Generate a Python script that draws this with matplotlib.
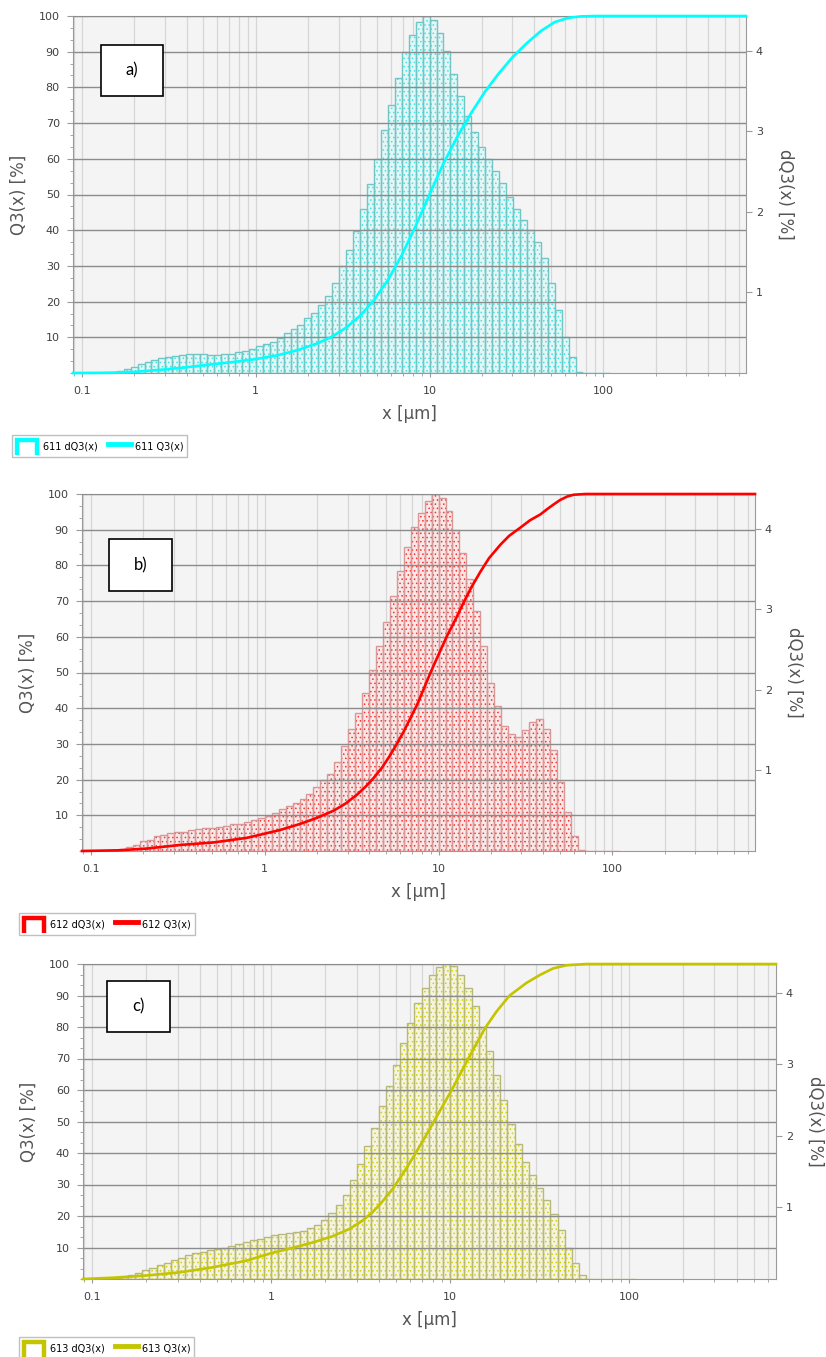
import numpy as np
import matplotlib.pyplot as plt
from matplotlib.ticker import LogLocator, MultipleLocator, NullFormatter
from matplotlib.patches import Rectangle, Patch
from matplotlib.lines import Line2D
from matplotlib.legend_handler import HandlerBase

W, H = 826, 1357

# size classes of the analyser: 25 per decade, class k = 10**(k/25) .. 10**((k+1)/25) um
classes_per_decade = 25
first_class = -25
x_min, x_max = 0.0888, 662

# sample 611 - dQ3 per class [%], classes k = -25 ... 50
a_dq3 = [0.005, 0.005, 0.005, 0.01, 0.015,
         0.03, 0.05, 0.08, 0.11, 0.14, 0.16, 0.19, 0.20, 0.21, 0.22,
         0.23, 0.23, 0.23, 0.22, 0.22, 0.23, 0.23, 0.26, 0.27, 0.30,
         0.33, 0.36, 0.39, 0.43, 0.50, 0.55, 0.60, 0.68, 0.75, 0.84,
         0.96, 1.12, 1.33, 1.53, 1.76, 2.04, 2.35, 2.65, 3.01, 3.33,
         3.66, 3.98, 4.20, 4.35, 4.43,
         4.38, 4.22, 3.99, 3.71, 3.44, 3.19, 2.99, 2.81, 2.65, 2.51,
         2.36, 2.19, 2.03, 1.90, 1.77, 1.63, 1.43, 1.12, 0.78, 0.45,
         0.20, 0.01, 0, 0, 0, 0]
# Q3 curve [%] read at these sizes [um]
a_q3_x = [0.0888, 0.145, 0.2, 0.3, 0.4, 0.55, 0.75, 1.0, 1.32, 1.74, 2.29, 2.75,
          3.31, 3.98, 4.79, 5.75, 6.92, 8.32, 10.0, 12.0, 14.5, 17.4, 20.9, 25.1,
          30.2, 36.3, 43.7, 52.5, 63.1, 75, 90, 662]
a_q3 = [0, 0.05, 0.3, 1.0, 1.6, 2.4, 3.1, 3.9, 4.9, 6.4, 8.4, 10.2,
        12.7, 16.0, 20.4, 26.0, 33.0, 41.2, 50.0, 58.6, 66.3, 72.9, 78.9, 84.0,
        88.6, 92.4, 95.8, 98.3, 99.5, 99.9, 100, 100]

# sample 612
b_dq3 = [0, 0, 0.005, 0.01,
         0.02, 0.05, 0.08, 0.12, 0.14, 0.18, 0.20, 0.22, 0.23, 0.24,
         0.26, 0.27, 0.28, 0.29, 0.30, 0.31, 0.33, 0.34, 0.36, 0.39, 0.41,
         0.43, 0.47, 0.52, 0.56, 0.59, 0.65, 0.71, 0.80, 0.88, 0.96,
         1.10, 1.30, 1.51, 1.71, 1.96, 2.25, 2.54, 2.84, 3.17, 3.47,
         3.77, 4.02, 4.20, 4.34, 4.43,
         4.38, 4.22, 3.98, 3.70, 3.37, 2.98, 2.54, 2.09, 1.80, 1.55,
         1.45, 1.42, 1.50, 1.60, 1.64, 1.52, 1.25, 0.86, 0.48, 0.18,
         0.01, 0, 0, 0, 0, 0]
b_q3_x = [0.0888, 0.145, 0.211, 0.327, 0.509, 0.792, 1.23, 1.6, 2.0, 2.49, 2.9, 3.4,
          3.8, 4.24, 4.75, 5.28, 5.75, 6.31, 6.9, 7.53, 8.2, 8.98, 9.5, 10.5,
          11.2, 12.5, 14.0, 15.5, 17.4, 19.5, 22.7, 25.5, 29.6, 33.5, 38.6, 42.0,
          46.0, 50.0, 55.0, 60.0, 70.0, 662]
b_q3 = [0, 0.2, 0.7, 1.7, 2.4, 3.7, 5.9, 7.6, 9.3, 11.3, 13.2, 15.8,
        18.0, 20.5, 23.5, 26.9, 30.0, 33.5, 37.3, 41.0, 45.3, 49.9, 52.6, 57.3,
        60.3, 64.8, 69.8, 74.0, 78.2, 82.0, 85.8, 88.3, 90.6, 92.6, 94.3, 95.7,
        97.1, 98.3, 99.3, 99.8, 100, 100]

# sample 613
c_dq3 = [0, 0.005, 0.01, 0.02,
         0.03, 0.05, 0.08, 0.12, 0.15, 0.19, 0.22, 0.27, 0.30, 0.33,
         0.36, 0.38, 0.41, 0.42, 0.43, 0.46, 0.49, 0.51, 0.54, 0.56, 0.58, 0.62,
         0.63, 0.64, 0.65, 0.67, 0.71, 0.76, 0.83, 0.92, 1.03, 1.18,
         1.38, 1.61, 1.86, 2.11, 2.41, 2.69, 2.99, 3.29, 3.57, 3.85,
         4.07, 4.25, 4.36, 4.40,
         4.37, 4.25, 4.07, 3.81, 3.52, 3.19, 2.85, 2.50, 2.16, 1.88,
         1.64, 1.45, 1.27, 1.10, 0.91, 0.68, 0.43, 0.23, 0.06,
         0, 0, 0, 0, 0, 0, 0]
c_q3_x = [0.0888, 0.13, 0.2, 0.307, 0.471, 0.724, 1.0, 1.32, 1.71, 2.21, 2.74, 3.2,
          3.7, 4.21, 4.8, 5.5, 6.3, 7.2, 8.2, 9.2, 10.3, 11.8, 13.5, 15.6,
          18.2, 21.5, 26.7, 31.7, 37.6, 44.7, 57.8, 662]
c_q3 = [0, 0.4, 1.1, 2.1, 3.7, 5.8, 8.2, 9.9, 11.6, 13.6, 15.9, 18.3,
        21.3, 24.8, 28.8, 33.8, 39.2, 44.8, 50.5, 55.5, 60.4, 66.8, 73.0, 79.5,
        85.0, 90.0, 94.0, 96.5, 98.6, 99.6, 100, 100]


class OpenBarHandler(HandlerBase):
    # legend symbol of the histogram: a thick open box
    def create_artists(self, legend, orig_handle, xdescent, ydescent, width, height, fontsize, trans):
        x0, x1 = -xdescent + 1.5, -xdescent + width - 1.5
        y0, y1 = -ydescent - 1, -ydescent + height - 1.5
        ln = Line2D([x0, x0, x1, x1], [y0, y1, y1, y0], color=orig_handle.get_edgecolor(),
                    lw=3.2, solid_joinstyle='miter', solid_capstyle='butt', transform=trans)
        return [ln]


panels = [
    dict(name='611', tag='a)', line='#00ffff', face='#e4f6f6', dots='#3ee6e6', edge='#74c4c4',
         dq3=a_dq3, qx=a_q3_x, q=a_q3, box=(73, 16, 746, 373), top=4.43,
         tagbox=(101, 45, 163, 96), leg=(12, 435)),
    dict(name='612', tag='b)', line='#ff0000', face='#f8e8e8', dots='#ff3030', edge='#d89898',
         dq3=b_dq3, qx=b_q3_x, q=b_q3, box=(82, 494, 755, 851), top=4.43,
         tagbox=(109, 539, 172, 591), leg=(19, 913)),
    dict(name='613', tag='c)', line='#c4c400', face='#f4f4e0', dots='#d4d400', edge='#b8b87c',
         dq3=c_dq3, qx=c_q3_x, q=c_q3, box=(83, 964, 776, 1279), top=4.40,
         tagbox=(107, 981, 170, 1032), leg=(19, 1337)),
]

plt.rcParams['hatch.linewidth'] = 0.6
fig = plt.figure(figsize=(W / 100, H / 100), dpi=100)

for p in panels:
    l, t, r, b = p['box']
    ax = fig.add_axes([l / W, 1 - b / H, (r - l) / W, (b - t) / H])
    ax2 = ax.twinx()   # Q3 axis, drawn over the histogram

    ax.set_xscale('log')
    ax.set_xlim(x_min, x_max)
    ax.set_ylim(0, p['top'])
    ax.set_facecolor('#f4f4f4')

    k = np.arange(first_class, first_class + len(p['dq3']) + 1)
    edges = 10.0 ** (k / classes_per_decade)
    ax.bar(edges[:-1], p['dq3'], width=np.diff(edges), align='edge', color=p['face'],
           edgecolor=p['dots'], hatch='....', lw=0, zorder=2)
    ax.bar(edges[:-1], p['dq3'], width=np.diff(edges), align='edge', fill=False,
           edgecolor=p['edge'], lw=1.0, zorder=3)

    ax.set_axisbelow(True)
    ax.xaxis.set_minor_locator(LogLocator(base=10, subs=np.arange(2, 10)))
    ax.xaxis.set_minor_formatter(NullFormatter())
    ax.set_xticks([0.1, 1, 10, 100], labels=['0.1', '1', '10', '100'])
    ax.grid(axis='x', which='both', color='#d6d6d6', lw=0.9)
    ax.tick_params(axis='x', which='major', length=3, color='#9a9a9a', labelsize=8,
                   labelcolor='#404040', pad=6)
    ax.tick_params(axis='x', which='minor', length=2, color='#9a9a9a')
    ax.set_xlabel('x [µm]', fontsize=12, color='#555555', labelpad=7)

    # dQ3 scale on the right
    ax.yaxis.tick_right()
    ax.yaxis.set_label_position('right')
    ax.set_yticks([1, 2, 3, 4])
    ax.tick_params(axis='y', length=4, color='#9a9a9a', labelsize=8, labelcolor='#404040', pad=3)
    ax.set_ylabel('dQ3(x) [%]', fontsize=12, color='#555555', rotation=270, va='bottom', labelpad=10)
    for side in ['left', 'right', 'bottom']:
        ax.spines[side].set_color('#9a9a9a')
    ax.spines['top'].set_color('#8a8a8a')

    # Q3 scale on the left
    ax2.set_ylim(0, 100)
    ax2.yaxis.tick_left()
    ax2.yaxis.set_label_position('left')
    ax2.set_yticks(range(10, 101, 10))
    ax2.yaxis.set_minor_locator(MultipleLocator(10 / 3))
    ax2.tick_params(axis='y', which='major', length=4.5, color='#9a9a9a', labelsize=8,
                    labelcolor='#404040', pad=5)
    ax2.tick_params(axis='y', which='minor', length=2.5, color='#9a9a9a')
    ax2.grid(axis='y', which='major', color='#8c8c8c', lw=1.0)
    ax2.set_ylabel('Q3(x) [%]', fontsize=12, color='#555555', labelpad=8)
    for s in ax2.spines.values():
        s.set_visible(False)
    ax2.plot(p['qx'], p['q'], color=p['line'], lw=1.9, clip_on=False, zorder=5)

    # panel tag box
    x0, y0, x1, y1 = p['tagbox']
    fig.add_artist(Rectangle((x0 / W, 1 - y1 / H), (x1 - x0) / W, (y1 - y0) / H,
                             transform=fig.transFigure, facecolor='white', edgecolor='black',
                             lw=1.2, zorder=6))
    fig.text((x0 + x1) / 2 / W, 1 - (y0 + y1) / 2 / H, p['tag'], ha='center', va='center',
             fontsize=12, family='Lato', zorder=7)

    # legend under the panel
    handles = [Patch(edgecolor=p['line'], facecolor='none'),
               Line2D([], [], color=p['line'], lw=3.5)]
    fig.legend(handles, [p['name'] + ' dQ3(x)', p['name'] + ' Q3(x)'],
               handler_map={Patch: OpenBarHandler()}, ncol=2, loc='upper left',
               bbox_to_anchor=(p['leg'][0] / W, 1 - p['leg'][1] / H), borderaxespad=0,
               fontsize=7, handlelength=2.4, handleheight=2.1, handletextpad=0.45,
               columnspacing=1.0, borderpad=0.35, fancybox=False, framealpha=1,
               edgecolor='#c0c0c0')

fig.savefig('out.png', dpi=100)
